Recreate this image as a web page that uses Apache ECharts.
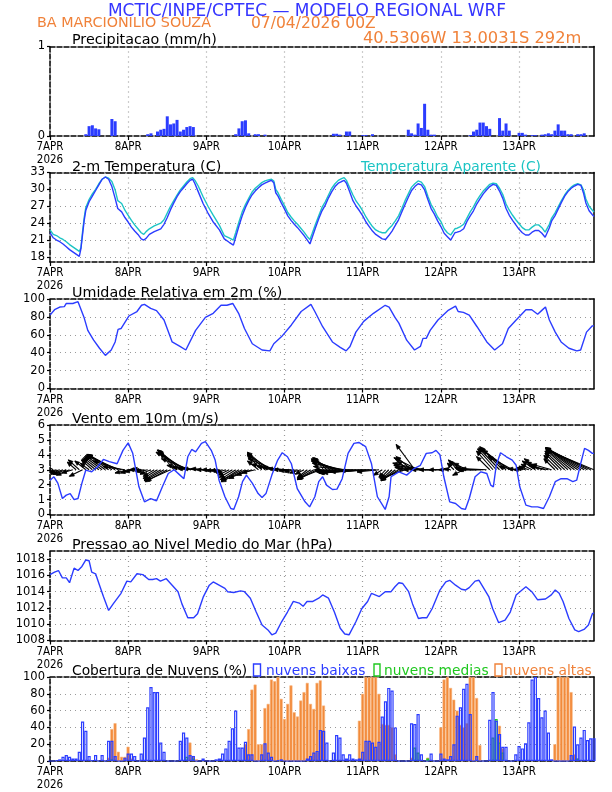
<!DOCTYPE html>
<html><head><meta charset="utf-8">
<script src="https://cdn.jsdelivr.net/npm/echarts@6/dist/echarts.min.js"></script>
<style>html,body{margin:0;padding:0;background:#fff}#c{width:612px;height:792px}</style>
</head><body><div id="c"></div>
<script>
// ---------- DATA ----------
const dayTicks = [0, 24, 48, 72, 96, 120, 144];
const dayLabels = ['7APR', '8APR', '9APR', '10APR', '11APR', '12APR', '13APR'];
const yearLabel = '2026';

const precipTicks = [0, 1];
const tempTicks = [18, 21, 24, 27, 30, 33];
const rhTicks = [0, 20, 40, 60, 80, 100];
const windTicks = [0, 1, 2, 3, 4, 5, 6];
const presTicks = [1008, 1010, 1012, 1014, 1016, 1018];
const cloudTicks = [0, 20, 40, 60, 80, 100];

const precip = [[11,0.02],[12,0.11],[13,0.12],[14,0.085],[15,0.075],[19,0.19],[20,0.165],[30,0.02],[31,0.03],[33,0.05],[34,0.07],[35,0.08],[36,0.22],[37,0.13],[38,0.14],[39,0.18],[40,0.05],[41,0.07],[42,0.1],[43,0.11],[44,0.1],[57,0.02],[58,0.085],[59,0.165],[60,0.175],[61,0.03],[63,0.02],[64,0.02],[66,0.015],[87,0.025],[88,0.025],[89,0.015],[91,0.05],[92,0.05],[96,0.01],[97,0.01],[99,0.02],[110,0.07],[111,0.03],[112,0.015],[113,0.14],[114,0.09],[115,0.36],[116,0.07],[117,0.015],[118,0.015],[129,0.01],[130,0.05],[131,0.07],[132,0.15],[133,0.15],[134,0.11],[135,0.08],[138,0.2],[139,0.06],[140,0.14],[141,0.06],[144,0.035],[145,0.035],[146,0.015],[148,0.01],[149,0.01],[151,0.015],[152,0.02],[153,0.03],[154,0.02],[155,0.06],[156,0.13],[157,0.06],[158,0.06],[159,0.02],[160,0.02],[162,0.02],[163,0.02],[164,0.03]];

const temp2m = [[0,22.3],[1,21.4],[2,21.0],[3,20.7],[4,20.3],[5,19.8],[6,19.3],[7,18.9],[8,18.5],[9,18.1],[9.5,19.5],[10,22.0],[10.5,24.5],[11,26.3],[12,27.8],[13,28.8],[14,29.8],[15,30.8],[16,31.8],[17,32.2],[18,31.8],[19,30.5],[20,28.4],[20.8,26.6],[22,26.0],[23,25.0],[24,24.2],[25,23.3],[26,22.6],[27,22.0],[28,21.2],[28.8,21.0],[29.5,21.3],[30.5,22.0],[32,22.5],[34,23.0],[35,23.8],[36,25.0],[37,26.4],[38,27.6],[39,28.7],[40,29.6],[41,30.3],[42,31.0],[43,31.6],[43.8,31.8],[44.5,31.0],[45.5,29.6],[47,27.5],[48.5,25.8],[50,24.3],[52,22.8],[53.5,21.2],[55,20.6],[56.3,20.1],[57,21.5],[58,23.5],[59,25.3],[60,26.8],[61,28.0],[62,29.0],[63,29.7],[64,30.3],[65,30.8],[66,31.1],[67,31.4],[68,31.6],[68.7,31.2],[69.3,29.4],[70,28.8],[71,27.6],[72,26.5],[73,25.3],[74,24.5],[75,23.8],[76,23.2],[77,22.5],[78,21.8],[79,21.0],[79.8,20.3],[80.5,21.5],[81.5,23.2],[82.5,24.8],[83.5,26.2],[84.5,27.2],[85.5,28.5],[86.5,29.6],[87.5,30.5],[88.5,31.1],[89.5,31.4],[90.3,31.6],[91,31.1],[92,29.6],[93,28.0],[94,27.0],[95,26.2],[96,25.3],[97,24.2],[98,23.4],[99,22.6],[100,22.0],[101,21.6],[102,21.2],[103,21.1],[104,21.8],[105,22.6],[106,23.6],[107,24.6],[108,26.0],[109,27.3],[110,28.6],[111,29.8],[112,30.5],[113,31.0],[114,30.8],[115,29.9],[116,28.2],[117,26.6],[118,25.6],[119,24.4],[120,23.4],[121,22.2],[122,21.6],[123,21.0],[123.6,21.0],[124.3,22.3],[125,22.4],[126,22.6],[127,23.0],[128,24.3],[129,25.3],[130,26.2],[131,27.4],[132,28.3],[133,29.2],[134,29.9],[135,30.5],[136,30.9],[137,30.7],[138,29.7],[139,28.4],[140,26.6],[141,25.4],[142,24.5],[143,23.7],[144,22.9],[145,22.3],[146,21.9],[147,21.9],[148,22.4],[149,22.7],[150,22.7],[151,22.2],[152,21.5],[152.6,21.3],[153.3,23.2],[154,24.4],[155,25.3],[156,26.5],[157,27.7],[158,28.8],[159,29.6],[160,30.2],[161,30.6],[162,30.9],[163,30.7],[163.8,29.3],[164.5,27.6],[165.5,26.2],[166.5,25.5],[167,25.2]];

const tempApparent = [[0,22.8],[1,22.0],[2,21.8],[3,21.4],[4,21.1],[5,20.7],[6,20.2],[7,19.8],[8,19.4],[9,19.0],[9.5,19.6],[10,22.5],[10.5,25.0],[11,26.8],[12,28.2],[13,29.2],[14,30.0],[15,31.0],[16,31.8],[17,32.2],[18,32.0],[19,31.4],[20,29.9],[20.8,28.0],[22,27.5],[23,26.3],[24,25.4],[25,24.5],[26,23.7],[27,23.0],[28,22.3],[28.8,22.0],[29.5,22.5],[30.5,23.0],[32,23.5],[34,24.0],[35,24.6],[36,25.8],[37,27.0],[38,28.0],[39,29.0],[40,29.9],[41,30.6],[42,31.3],[43,31.9],[43.8,32.1],[44.5,31.6],[45.5,30.6],[47,28.7],[48.5,27.0],[50,25.5],[52,23.6],[53.5,21.8],[55,21.4],[56.3,21.0],[57,22.3],[58,24.2],[59,26.0],[60,27.3],[61,28.4],[62,29.5],[63,30.2],[64,30.7],[65,31.2],[66,31.5],[67,31.7],[68,31.8],[68.7,31.5],[69.3,30.0],[70,29.4],[71,28.2],[72,27.1],[73,25.9],[74,25.1],[75,24.4],[76,23.8],[77,23.1],[78,22.4],[79,21.6],[79.8,21.1],[80.5,22.2],[81.5,23.8],[82.5,25.3],[83.5,26.8],[84.5,27.8],[85.5,29.0],[86.5,30.2],[87.5,31.0],[88.5,31.6],[89.5,31.9],[90.3,32.1],[91,31.6],[92,30.3],[93,29.0],[94,27.9],[95,27.1],[96,26.2],[97,25.1],[98,24.2],[99,23.4],[100,22.8],[101,22.5],[102,22.3],[103,22.3],[104,23.0],[105,23.6],[106,24.4],[107,25.3],[108,26.6],[109,28.0],[110,29.2],[111,30.4],[112,31.0],[113,31.5],[114,31.3],[115,30.5],[116,28.8],[117,27.3],[118,26.3],[119,25.1],[120,24.3],[121,23.0],[122,22.3],[123,21.9],[123.6,21.9],[124.3,23.0],[125,23.1],[126,23.4],[127,23.8],[128,24.9],[129,26.0],[130,26.9],[131,28.0],[132,28.9],[133,29.7],[134,30.3],[135,30.9],[136,31.1],[137,31.0],[138,30.2],[139,29.1],[140,27.4],[141,26.3],[142,25.4],[143,24.6],[144,23.9],[145,23.2],[146,22.8],[147,22.8],[148,23.3],[149,23.7],[150,23.7],[151,23.2],[152,22.4],[152.6,22.2],[153.3,23.8],[154,24.9],[155,25.8],[156,26.9],[157,28.0],[158,29.0],[159,29.8],[160,30.4],[161,30.8],[162,31.0],[163,30.8],[163.8,29.9],[164.5,28.3],[165.5,27.0],[166.5,26.3],[167,26.0]];

const humidity = [[0,82],[1.4,88],[3,91],[4.4,91.5],[5,95],[7,95],[8.6,97],[9.2,97],[10.4,80],[11.6,65],[13.4,54],[15.2,45],[17,37],[17.6,37],[18.8,43],[20,52],[20.9,66],[21.8,67],[24.2,81],[26.7,86],[28.1,93],[29,94],[30.9,89.5],[32.7,87],[35,76.5],[37.5,52],[39.9,47],[41.7,43],[44.7,65],[47.7,79.5],[50.1,84],[52.5,93],[54.3,93],[56.1,95],[57.9,84],[59.7,67],[62.1,50],[65.1,43],[67.5,42],[68.7,50],[71.1,58],[74.1,71],[77.1,86],[80.1,94],[81.3,86],[83.7,69],[86.7,52],[89.1,46],[90.9,42],[92.1,47],[93.9,63],[96.3,75],[99.3,84],[102.9,93],[104.1,91],[105.9,79.5],[107.1,73],[109.5,54],[111.9,43],[113.7,47],[114.5,56],[115.5,56],[116.7,65],[119.1,76.5],[122.1,87],[124.5,92],[125.3,86],[126.9,85],[128.7,82],[131.1,69],[134.1,52],[136.5,43],[138.9,50],[140.7,67],[143.1,76.5],[146.1,88],[147.9,88],[149.7,83],[150.9,87],[152.1,91],[153.3,76.5],[155.1,63],[156.9,52],[159.3,45],[161.7,42],[162.9,43],[164.7,63],[166.5,70],[167,70]];

const windSpeed = [[0,2.3],[1.2,2.53],[2.4,2.1],[3.8,1.07],[5,1.3],[6.2,1.4],[7.4,1.0],[8.6,1.07],[9.8,2.1],[11,2.98],[12.8,2.86],[14.6,3.2],[16.4,3.69],[18.2,3.54],[20.6,3.4],[22.4,4.3],[24,4.8],[25.4,4.1],[27.3,1.86],[29,0.85],[30.9,1.07],[32.7,0.92],[34.5,1.86],[36.3,2.75],[38.1,3.0],[39.9,2.64],[41.1,2.4],[42.3,3.87],[43.5,4.36],[44.7,4.2],[46.5,4.77],[47.7,4.88],[49.5,4.3],[50.7,3.65],[51.9,2.3],[53.7,1.19],[55.5,0.4],[56.4,0.34],[57.9,1.19],[59.1,2.2],[60.3,2.64],[62.1,2.1],[63.9,1.4],[65.1,1.14],[66.3,1.4],[68.1,2.64],[69.9,3.65],[71.3,4.14],[72.9,3.87],[74.1,3.4],[75.9,1.74],[78.3,0.85],[79.7,0.51],[81.3,1.19],[82.5,2.2],[83.7,2.53],[84.9,1.97],[86.7,1.68],[88.1,1.7],[89.7,2.4],[91.5,4.1],[93.3,4.77],[94.8,4.83],[96.9,4.55],[98.7,3.4],[100.5,1.19],[102.9,0.34],[104.1,1.19],[104.7,2.53],[107.1,2.86],[109.5,2.64],[111.9,3.1],[113.7,3.3],[115.5,4.1],[117.3,4.14],[118.5,4.3],[119.7,4.0],[120.9,2.53],[122.7,0.85],[124.5,0.74],[126.3,0.4],[127.5,0.34],[128.7,1.07],[130.5,2.53],[132.3,2.86],[134.1,2.75],[135.3,1.97],[136.1,1.85],[137,3.3],[138.3,4.14],[140.1,3.87],[141.9,3.65],[143.1,3.3],[144.2,1.86],[146.1,0.63],[147.9,0.51],[149.7,0.51],[151.5,0.4],[153.3,1.19],[155.1,2.2],[156.9,2.4],[158.7,2.4],[160.5,2.2],[161.7,2.3],[162.9,3.4],[164.1,4.43],[165.3,4.3],[166.5,4.1],[167,4.1]];

// hourly wind vector components (m/s), hours 0..167
const windU = [-0.6,-0.7,-0.9,-1.0,-1.1,-1.2,-1.2,-1.0,-0.8,-1.0,-1.2,-1.0,-0.8,-1.0,-1.2,-1.4,-1.6,-1.8,-2.0,-2.2,-2.5,-2.8,-2.6,-2.0,-1.2,-1.0,-0.9,-0.8,-0.8,-0.9,-1.0,-1.0,-1.0,-1.3,-1.5,-1.8,-2.0,-2.2,-1.2,-1.6,-2.0,-2.4,-2.8,-2.6,-2.4,-2.2,-2.0,-1.8,-1.4,-1.2,-1.0,-0.9,-0.8,-0.8,-0.9,-1.0,-1.2,-1.4,-1.6,-1.9,-2.2,-1.8,-1.4,-1.2,-1.0,-1.3,-1.6,-1.9,-2.2,-2.4,-2.4,-2.2,-2.0,-1.8,-1.6,-1.4,-1.2,-1.0,-0.8,-0.9,-1.2,-1.5,-1.8,-2.0,-0.8,-1.2,-1.6,-2.0,-2.3,-2.6,-2.8,-3.0,-3.2,-3.4,-3.6,-3.8,-4.0,-4.2,-4.2,-3.8,-3.2,-2.0,-0.8,-0.6,-0.8,-1.0,-1.3,-1.6,-1.9,-2.2,-1.0,-1.4,-1.7,-2.2,-2.6,-2.8,-3.0,-3.0,-2.8,-2.4,-2.0,-1.4,-0.8,-0.6,-0.6,-0.8,-1.0,-1.0,-1.2,-1.4,-1.6,-1.8,-2.0,-2.2,-2.3,-1.2,-1.5,-1.7,-1.9,-2.1,-2.3,-2.4,-2.2,-1.5,-1.0,-0.8,-0.8,-0.9,-1.0,-1.2,-1.3,-1.4,-1.5,-1.6,-1.8,-1.0,-1.3,-1.5,-1.8,-2.0,-2.3,-2.6,-2.9,-3.2,-3.5,-3.8,-4.1,-4.3];
const windV = [0.5,0.4,-0.2,-0.3,-0.4,-0.4,-0.5,-0.3,0.7,0.9,-0.6,0.8,0.6,0.9,1.0,1.1,1.2,1.3,1.4,1.4,1.4,1.3,0.8,0.3,-0.3,-0.3,-0.2,0.0,0.1,-0.1,-0.2,-0.4,-0.6,-0.8,-0.9,-1.0,-1.1,-1.0,1.5,1.7,1.8,1.8,1.6,1.0,0.4,0.2,0.1,0.1,0.1,0.0,0.0,-0.1,-0.1,-0.2,-0.3,-0.5,-0.7,-0.9,-1.0,-1.0,-1.1,-0.8,-0.5,-0.3,0.8,1.3,1.5,1.6,1.4,1.0,0.5,0.3,0.2,0.1,0.0,-0.1,-0.2,-0.3,-0.4,-0.7,-0.8,-0.9,-0.9,-0.8,1.0,1.1,1.1,1.0,0.9,0.8,0.6,0.3,0.0,-0.1,-0.2,-0.2,-0.3,-0.3,-0.3,-0.2,-0.1,-0.2,-0.5,-0.7,-0.8,-0.9,-1.0,-1.0,-0.9,-0.8,0.8,1.2,2.3,1.1,0.6,0.4,0.2,0.1,0.0,0.0,0.0,0.0,0.0,0.1,0.6,0.9,0.8,-0.5,0.6,0.2,0.1,0.0,0.0,0.0,0.1,1.2,1.7,1.9,2.0,2.1,2.0,1.8,1.2,0.3,0.1,0.0,0.2,0.3,0.5,0.8,1.0,0.7,0.4,0.3,0.5,1.0,1.3,1.5,1.7,1.8,1.9,2.0,2.0,2.0,2.0,2.0,1.9,1.8];

const pressure = [[0,1016.1],[1.4,1016.4],[2.6,1016.6],[3.8,1015.7],[5,1015.7],[6,1015.1],[7.4,1016.9],[8.6,1016.6],[9.8,1017.1],[11,1017.9],[12,1017.8],[12.8,1016.4],[14,1016.2],[15.2,1014.8],[16.4,1013.4],[18,1011.7],[19.4,1012.5],[21.8,1013.8],[23.6,1015.3],[24.8,1015.2],[26.7,1016.2],[28.5,1016.1],[30.3,1015.5],[31.5,1015.5],[32.7,1015.6],[33.9,1015.3],[35.7,1015.6],[37.5,1014.8],[39.3,1014.0],[40.5,1012.5],[42.3,1010.8],[44.1,1010.8],[45.3,1011.3],[47.1,1013.4],[48.9,1014.8],[50.1,1015.2],[51.9,1014.8],[53.7,1014.4],[54.5,1014.0],[56.4,1013.9],[58.5,1014.1],[59.7,1014.0],[61.5,1013.2],[63.3,1011.5],[65.1,1009.9],[66.9,1009.3],[68.1,1008.7],[69.3,1008.9],[71.1,1010.3],[72.9,1011.5],[74.7,1012.8],[76.5,1012.6],[77.7,1012.2],[78.9,1012.8],[80.7,1012.8],[82.5,1013.2],[83.7,1013.6],[85.5,1013.2],[87.3,1011.5],[89.1,1009.5],[90.5,1008.8],[91.8,1008.7],[93.9,1010.3],[95.7,1011.9],[97.5,1012.8],[98.7,1013.8],[101.1,1013.4],[102.9,1014.0],[104.7,1014.0],[105.9,1014.6],[107.1,1015.1],[108.3,1015.0],[110.1,1014.0],[111.3,1012.5],[113.1,1010.7],[114.3,1010.8],[115.7,1010.8],[117.3,1011.9],[119.7,1014.2],[121.5,1015.2],[122.7,1015.4],[124.5,1014.8],[126.3,1014.3],[127.5,1014.2],[128.7,1014.5],[130.5,1015.3],[131.7,1015.4],[132.9,1014.6],[134.7,1013.4],[135.9,1011.9],[137.7,1010.2],[139.7,1010.5],[141.3,1011.5],[143.1,1013.6],[144.9,1014.2],[146.1,1014.6],[147.9,1014.0],[149.7,1013.0],[152.1,1013.1],[153.9,1013.6],[155.1,1014.2],[156.3,1013.8],[157.5,1012.8],[159.3,1010.7],[161.1,1009.3],[162.3,1009.1],[164.1,1009.4],[165.3,1009.9],[166.5,1011.3],[167,1011.4]];

// hourly low cloud cover (%), hours 0..167
const cloudLow = [0,0,1,2,5,7,5,3,3,11, 47,36,6,1,7,0,7,0,24,24, 6,0,0,4,9,9,6,0,9,28, 64,88,82,82,22,11,0,0,0,0, 24,34,28,7,6,0,0,3,0,0, 0,2,3,9,15,24,39,60,16,16, 23,8,8,0,0,8,21,10,5,0, 1,2,0,0,0,0,0,0,0,3, 6,10,12,37,36,22,0,10,31,28, 8,3,8,3,2,3,11,24,24,22, 17,23,53,71,87,84,40,0,0,0, 0,45,44,56,8,0,0,9,0,0, 9,3,2,6,20,54,64,86,92,56, 0,6,0,0,0,49,82,48,32,17, 17,0,0,8,18,15,21,46,97,100, 75,52,60,34,2,0,0,0,0,0, 7,41,20,28,37,25,27,27];
const cloudMid = [[19,2],[42,5],[44,3],[112,16],[113,10],[116,3],[136,28],[137,50],[138,22],[139,10],[162,3]];
const cloudHigh = [[18,4],[19,38],[20,45],[21,11],[22,5],[23,5],[24,17],[25,3],[43,22],[44,6],[45,2],[60,20],[61,38],[62,85],[63,91],[64,20],[65,20],[66,63],[67,68],[68,97],[69,95],[70,100],[71,74],[72,50],[73,68],[74,90],[75,58],[76,53],[77,72],[78,82],[79,93],[80,68],[81,62],[82,93],[83,96],[84,66],[95,48],[96,80],[97,100],[98,100],[99,100],[100,100],[101,80],[102,44],[103,43],[104,43],[105,40],[106,8],[111,4],[116,4],[120,40],[121,97],[122,100],[123,87],[124,73],[125,60],[126,43],[127,40],[128,45],[129,100],[130,100],[131,75],[132,19],[138,42],[139,15],[155,20],[156,100],[157,100],[158,100],[159,100],[160,82],[161,8],[162,3]];

// ---------- CHART ----------
const FONT = '"DejaVu Sans", "Liberation Sans", sans-serif';
const AXFONT = '"DejaVu Sans Condensed", "DejaVu Sans", sans-serif';
const BLUE = '#2b3cff', CYAN = '#1cc4c4', ORANGE = '#f0823a', GREEN = '#20c820';
const L = 50, W = 544, H = 89.5;
const tops = [46.5, 172.5, 299, 425, 551, 677];
const ranges = [[0, 1, precipTicks], [17.1, 33, tempTicks], [0, 100, rhTicks], [0, 6, windTicks], [1008, 1019, presTicks], [0, 100, cloudTicks]];
const dash = [5, 2];
const dotted = {color: '#9a9a9a', type: [1, 4], width: 1.2};

const grid = tops.map(t => ({left: L, top: t, width: W, height: H}));
const xAxis = [], yAxis = [];
tops.forEach((t, i) => {
  xAxis.push({
    type: 'value', gridIndex: i, min: 0, max: 167, position: 'bottom',
    axisLine: {show: true, onZero: false, lineStyle: {color: '#000', width: 1.5, type: dash}},
    axisTick: {show: true, customValues: dayTicks, length: 4, lineStyle: {color: '#000', width: 1.2}},
    axisLabel: {
      customValues: dayTicks, margin: 5, color: '#000', fontSize: 11.5, fontFamily: AXFONT, lineHeight: 13,
      formatter: v => { const k = dayTicks.indexOf(Math.round(v)); if (k < 0) return ''; return k === 0 ? dayLabels[0] + '\n' + yearLabel : dayLabels[k]; }
    },
    splitLine: {show: true, lineStyle: dotted}
  });
  xAxis.push({
    type: 'value', gridIndex: i, min: 0, max: 167, position: 'top',
    axisLine: {show: true, onZero: false, lineStyle: {color: '#000', width: 1.5, type: dash}},
    axisTick: {show: false}, axisLabel: {show: false}, splitLine: {show: false}
  });
  const r = ranges[i];
  yAxis.push({
    type: 'value', gridIndex: i, min: r[0], max: r[1], position: 'left',
    axisLine: {show: true, onZero: false, lineStyle: {color: '#000', width: 1.5, type: dash}},
    axisTick: {show: true, customValues: r[2], length: 3, lineStyle: {color: '#000', width: 1.2}},
    axisLabel: {customValues: r[2], margin: 5, color: '#000', fontSize: 11.5, fontFamily: FONT, formatter: v => String(v)},
    splitLine: {show: i !== 0, lineStyle: dotted}
  });
  yAxis.push({
    type: 'value', gridIndex: i, min: r[0], max: r[1], position: 'right',
    axisLine: {show: true, onZero: false, lineStyle: {color: '#000', width: 1.5}},
    axisTick: {show: false}, axisLabel: {show: false}, splitLine: {show: false}
  });
});

const lineS = (data, idx, color, z) => ({
  type: 'line', data, xAxisIndex: idx * 2, yAxisIndex: idx * 2, showSymbol: false, symbol: 'none',
  lineStyle: {color, width: 1.4}, itemStyle: {color}, z: z || 3, animation: false, silent: true
});

const windVec = windU.map((u, h) => [h, u, windV[h]]);
const lowData = cloudLow.map((v, h) => [h, v]);

const series = [
  {type: 'bar', data: precip, xAxisIndex: 0, yAxisIndex: 0, barWidth: 3, itemStyle: {color: BLUE}, animation: false},
  lineS(tempApparent, 1, CYAN, 3),
  lineS(temp2m, 1, BLUE, 4),
  lineS(humidity, 2, BLUE),
  {
    type: 'custom', xAxisIndex: 6, yAxisIndex: 6, data: windVec, clip: true, animation: false, silent: true, z: 3,
    renderItem: (params, api) => {
      const h = api.value(0), u = api.value(1), v = api.value(2);
      const p = api.coord([h, 3]);
      const K = 11;
      const ex = p[0] + u * K, ey = p[1] - v * K;
      const ang = Math.atan2(ey - p[1], ex - p[0]);
      const a = 5, s = 0.4;
      const h1 = [ex - a * Math.cos(ang - s), ey - a * Math.sin(ang - s)];
      const h2 = [ex - a * Math.cos(ang + s), ey - a * Math.sin(ang + s)];
      return {type: 'group', children: [
        {type: 'line', shape: {x1: p[0], y1: p[1], x2: ex, y2: ey}, style: {stroke: '#000', lineWidth: 1.1}},
        {type: 'polygon', shape: {points: [h1, [ex, ey], h2]}, style: {stroke: '#000', lineWidth: 0.8, fill: '#000'}}
      ]};
    }
  },
  lineS(windSpeed, 3, BLUE, 4),
  lineS(pressure, 4, BLUE),
  {type: 'bar', data: cloudHigh, xAxisIndex: 10, yAxisIndex: 10, barWidth: 3, barGap: '-100%', z: 2,
   itemStyle: {color: '#f28a3a', borderColor: '#f8b57e', borderWidth: 0.6}, animation: false},
  {type: 'bar', data: cloudMid, xAxisIndex: 10, yAxisIndex: 10, barWidth: 3, barGap: '-100%', z: 3,
   itemStyle: {color: 'rgba(0,0,0,0)', borderColor: GREEN, borderWidth: 1.2}, animation: false},
  {type: 'bar', data: lowData, xAxisIndex: 10, yAxisIndex: 10, barWidth: 3.2, barGap: '-100%', z: 4,
   itemStyle: {color: 'rgba(255,255,255,0)', borderColor: BLUE, borderWidth: 1.2}, animation: false}
];

const txt = (x, y, text, color, size, align) => ({
  type: 'text', x, y, z: 100, silent: true,
  style: {text, fill: color, fontSize: size, fontFamily: FONT, align: align || 'left', verticalAlign: 'middle'}
});
const graphic = [
  txt(307, 11.5, 'MCTIC/INPE/CPTEC — MODELO REGIONAL WRF', '#3535ff', 17, 'center'),
  txt(37, 23.5, 'BA MARCIONILIO SOUZA', ORANGE, 14.3),
  txt(251, 23.5, '07/04/2026 00Z', ORANGE, 15.5),
  txt(363, 39, '40.5306W 13.0031S 292m', ORANGE, 16.3),
  txt(72, 40, 'Precipitacao (mm/h)', '#000', 14.3),
  txt(72, 167, '2-m Temperatura (C)', '#000', 14.3),
  txt(361, 167, 'Temperatura Aparente (C)', CYAN, 13.8),
  txt(72, 293.5, 'Umidade Relativa em 2m (%)', '#000', 14.3),
  txt(72, 419.5, 'Vento em 10m (m/s)', '#000', 14.3),
  txt(72, 545, 'Pressao ao Nivel Medio do Mar (hPa)', '#000', 14.3),
  txt(72, 671, 'Cobertura de Nuvens (%)', '#000', 13.8),
  {type: 'rect', z: 100, shape: {x: 253.5, y: 664, width: 7, height: 12}, style: {fill: 'none', stroke: BLUE, lineWidth: 1.4}},
  txt(266, 671, 'nuvens baixas', BLUE, 13.8),
  {type: 'rect', z: 100, shape: {x: 374, y: 664, width: 6, height: 12}, style: {fill: 'none', stroke: GREEN, lineWidth: 1.4}},
  txt(384, 671, 'nuvens medias', GREEN, 13.8),
  {type: 'rect', z: 100, shape: {x: 495, y: 664, width: 7, height: 12}, style: {fill: 'none', stroke: ORANGE, lineWidth: 1.4}},
  txt(504, 671, 'nuvens altas', ORANGE, 13.8)
];

const chart = echarts.init(document.getElementById('c'), null, {renderer: 'canvas'});
chart.setOption({backgroundColor: '#fff', animation: false, grid, xAxis, yAxis, series, graphic});
</script></body></html>
